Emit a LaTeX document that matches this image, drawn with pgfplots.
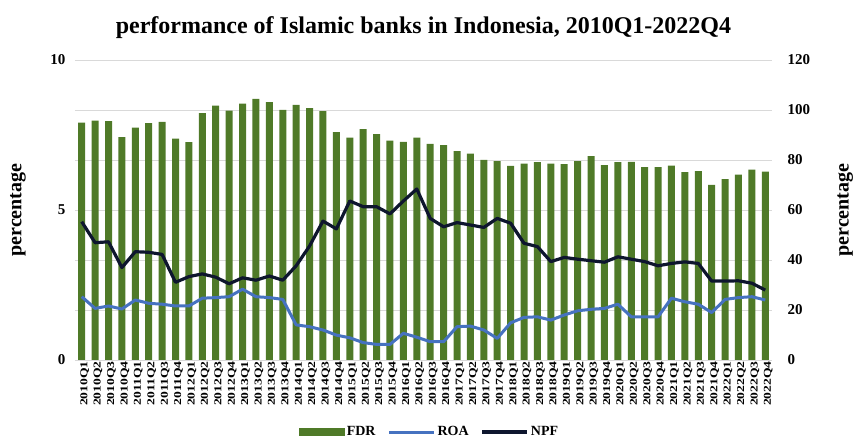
\documentclass[border=0pt]{standalone}
\usepackage{pgfplots}
\usepackage{pgfplotstable}
\usepackage{graphicx}
\usepackage{fontspec}
\setmainfont{Liberation Serif}
\pgfplotsset{compat=1.18}
\definecolor{fdrgreen}{RGB}{79,122,40}
\definecolor{roablue}{RGB}{70,114,192}
\definecolor{npfnavy}{RGB}{14,22,46}
\definecolor{gridgray}{RGB}{217,217,217}
\newcommand{\q}[2]{\scalebox{1.3}[1]{20#1Q#2}}

\pgfplotstableread{
x FDR ROA NPF
1 94.9 2.11 4.61
2 95.7 1.72 3.91
3 95.5 1.80 3.94
4 89.1 1.70 3.08
5 92.9 2.00 3.61
6 94.7 1.89 3.59
7 95.2 1.86 3.52
8 88.5 1.80 2.59
9 87.1 1.80 2.78
10 98.7 2.06 2.87
11 101.7 2.08 2.76
12 99.7 2.11 2.54
13 102.5 2.36 2.74
14 104.4 2.11 2.66
15 103.1 2.08 2.80
16 100.0 2.02 2.66
17 102.0 1.17 3.14
18 100.7 1.11 3.80
19 99.5 1.00 4.63
20 91.1 0.83 4.37
21 88.9 0.74 5.30
22 92.3 0.58 5.11
23 90.3 0.52 5.11
24 87.7 0.52 4.87
25 87.2 0.89 5.30
26 88.9 0.76 5.70
27 86.4 0.61 4.72
28 85.9 0.61 4.44
29 83.5 1.11 4.58
30 82.5 1.13 4.50
31 80.0 1.00 4.42
32 79.5 0.72 4.72
33 77.6 1.24 4.56
34 78.5 1.42 3.89
35 79.1 1.44 3.78
36 78.5 1.33 3.28
37 78.3 1.50 3.42
38 79.5 1.64 3.36
39 81.5 1.69 3.31
40 77.9 1.72 3.26
41 79.1 1.86 3.44
42 79.2 1.44 3.36
43 77.1 1.44 3.28
44 77.1 1.44 3.14
45 77.7 2.06 3.22
46 75.1 1.94 3.27
47 75.5 1.86 3.22
48 70.0 1.58 2.63
49 72.3 2.02 2.63
50 74.1 2.08 2.64
51 76.1 2.11 2.56
52 75.3 2.00 2.33
}\data

\begin{document}
\begin{tikzpicture}
\path[use as bounding box] (-75pt,-79pt) rectangle (782pt,360pt);
\begin{axis}[
  at={(0pt,0pt)}, anchor=south west,
  scale only axis, width=697pt, height=300pt,
  xmin=0.5, xmax=52.5, ymin=0, ymax=120,
  axis y line*=right, axis x line=none,
  y axis line style={draw=none},
  ytick={0,20,...,120},
  ymajorgrids, grid style={gridgray, line width=0.8pt},
  major tick length=0pt,
  /pgf/number format/assume math mode=true,
  yticklabel style={font=\fontsize{15}{15}\selectfont\bfseries, xshift=12pt},
  ylabel={percentage},
  ylabel style={font=\fontsize{20}{20}\selectfont\bfseries, at={(axis description cs:1.105,0.5)}, anchor=center},
]
\addplot[ybar, bar width=7pt, fill=fdrgreen, draw=none] table[x=x, y=FDR] {\data};
\end{axis}
\begin{axis}[
  at={(0pt,0pt)}, anchor=south west,
  scale only axis, width=697pt, height=300pt,
  xmin=0.5, xmax=52.5, ymin=0, ymax=10,
  axis y line*=left, axis x line*=bottom,
  x axis line style={draw=none},
  y axis line style={draw=none},
  ytick={0,5,10},
  xtick={1,...,52},
  xticklabels={\q{10}{1},\q{10}{2},\q{10}{3},\q{10}{4},\q{11}{1},\q{11}{2},\q{11}{3},\q{11}{4},\q{12}{1},\q{12}{2},\q{12}{3},\q{12}{4},\q{13}{1},\q{13}{2},\q{13}{3},\q{13}{4},\q{14}{1},\q{14}{2},\q{14}{3},\q{14}{4},\q{15}{1},\q{15}{2},\q{15}{3},\q{15}{4},\q{16}{1},\q{16}{2},\q{16}{3},\q{16}{4},\q{17}{1},\q{17}{2},\q{17}{3},\q{17}{4},\q{18}{1},\q{18}{2},\q{18}{3},\q{18}{4},\q{19}{1},\q{19}{2},\q{19}{3},\q{19}{4},\q{20}{1},\q{20}{2},\q{20}{3},\q{20}{4},\q{21}{1},\q{21}{2},\q{21}{3},\q{21}{4},\q{22}{1},\q{22}{2},\q{22}{3},\q{22}{4}},
  xticklabel style={rotate=90, anchor=east, font=\fontsize{10.5}{10.5}\selectfont\bfseries, inner sep=1pt, yshift=-3pt},
  major tick length=0pt,
  /pgf/number format/assume math mode=true,
  yticklabel style={font=\fontsize{15}{15}\selectfont\bfseries, xshift=-6pt},
  ylabel={percentage},
  ylabel style={font=\fontsize{20}{20}\selectfont\bfseries, at={(axis description cs:-0.082,0.5)}, anchor=center},
  title={performance of Islamic banks in Indonesia, 2010Q1-2022Q4},
  title style={font=\fontsize{24}{24}\selectfont\bfseries, at={(axis description cs:0.5,1.088)}, anchor=center},
  legend style={at={(axis description cs:0.509,-0.24)}, anchor=center, draw=none, fill=none,
    legend columns=3, font=\fontsize{14}{14}\selectfont\bfseries,
    /tikz/every even column/.append style={column sep=10pt}},
]
\addlegendimage{legend image code/.code={\fill[fdrgreen] (0pt,-3.5pt) rectangle (45pt,3.5pt);}}
\addlegendentry{FDR}
\addplot[color=roablue, line width=3pt, line join=round, legend image code/.code={\draw[roablue, line width=3pt] (0pt,0pt) -- (45pt,0pt);}] table[x=x, y=ROA] {\data};
\addlegendentry{ROA}
\addplot[color=npfnavy, line width=3.2pt, line join=round, legend image code/.code={\draw[npfnavy, line width=3.2pt] (0pt,0pt) -- (45pt,0pt);}] table[x=x, y=NPF] {\data};
\addlegendentry{NPF}
\end{axis}
\end{tikzpicture}
\end{document}
